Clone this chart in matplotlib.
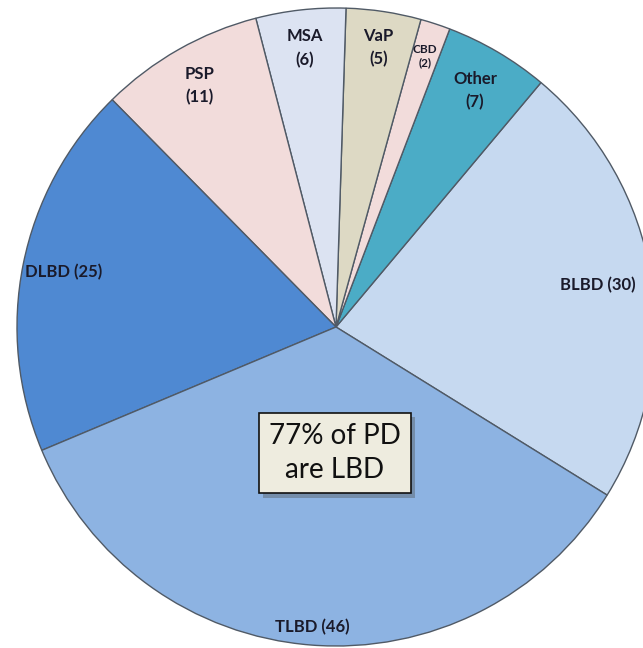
import matplotlib
matplotlib.use("Agg")
import matplotlib.pyplot as plt
import matplotlib.patheffects as pe
import numpy as np

categories = ["BLBD", "Other", "CBD", "VaP", "MSA", "PSP", "DLBD", "TLBD"]
counts = [30, 7, 2, 5, 6, 11, 25, 46]
colors = ["#c6d9f0", "#4bacc6", "#f2dcdb", "#ddd9c4", "#dce3f2", "#f2dcdb", "#4f89d2", "#8db3e2"]
label_text = ["BLBD (30)", "Other\n(7)", "CBD\n(2)", "VaP\n(5)", "MSA\n(6)", "PSP\n(11)", "DLBD (25)", "TLBD (46)"]
box_text = "77% of PD\nare LBD"

W, H = 643, 648
fig = plt.figure(figsize=(W / 100, H / 100), dpi=100)
ax = fig.add_axes([0, 0, 1, 1])
cx, cy, R = 336, H - 327, 319

wedges, _ = ax.pie(counts, colors=colors, startangle=-31.8, counterclock=True,
                   center=(cx, cy), radius=R, frame=True,
                   wedgeprops=dict(edgecolor="#505a66", linewidth=1.0))
ax.set_xlim(0, W)
ax.set_ylim(0, H)
ax.set_aspect("equal")
ax.axis("off")

dist = [0.83, 0.86, 0.895, 0.885, 0.88, 0.87, 0.87, 0.945]
sizes = [12, 12, 8.5, 12, 12, 12, 12, 12]
spacing = [1.55, 1.55, 1.25, 1.55, 1.55, 1.55, 1.55, 1.55]
for w, txt, d, s, ls in zip(wedges, label_text, dist, sizes, spacing):
    th = np.deg2rad((w.theta1 + w.theta2) / 2)
    x = cx + d * R * np.cos(th)
    y = cy + d * R * np.sin(th)
    ax.text(x, y, txt, ha="center", va="center", fontsize=s, fontweight="bold",
            family="Lato", color="#1a1a2a", linespacing=ls)

t = ax.text(335, H - 453, box_text, ha="center", va="center", fontsize=20,
            family="Lato", color="#111111", linespacing=1.42,
            bbox=dict(boxstyle="square,pad=0.36", facecolor="#eeecdf",
                      edgecolor="#111111", linewidth=1.2))
t.get_bbox_patch().set_path_effects([pe.SimplePatchShadow(offset=(3, -3), alpha=0.35), pe.Normal()])

fig.savefig("out.png", dpi=100)
